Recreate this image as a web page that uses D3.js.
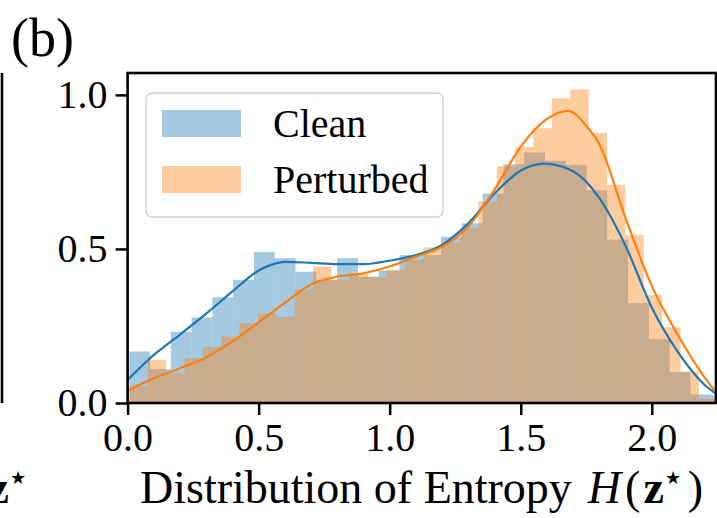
<!DOCTYPE html>
<html>
<head>
<meta charset="utf-8">
<script src="https://cdn.jsdelivr.net/npm/d3@7"></script>
<style>
  body { margin: 0; background: #fff; }
  svg { display: block; font-family: "Liberation Serif", "Times New Roman", serif; }
</style>
</head>
<body>
<div id="chart"></div>
<script>
// ---- data ----
const xTicks = [0, 0.5, 1.0, 1.5, 2.0];
const yTicks = [0, 0.5, 1.0];
const xDomain = [0, 2.245];
const yDomain = [0, 1.071];

const seriesNames = ['Clean', 'Perturbed'];

// histogram bins: first edge, bin width, bar heights (density)
const cleanBinStart = 0.0065;
const cleanBinWidth = 0.0793;
const cleanHeights = [0.167, 0.11, 0.231, 0.278, 0.343, 0.40, 0.49, 0.47, 0.426, 0.40,
  0.47, 0.41, 0.43, 0.48, 0.48, 0.54, 0.583, 0.68, 0.775, 0.813,
  0.786, 0.773, 0.69, 0.53, 0.324, 0.207, 0.10, 0.028, 0.025];

const pertBinStart = 0.0065;
const pertBinWidth = 0.0701;
const pertHeights = [0.055, 0.14, 0.096, 0.145, 0.182, 0.216, 0.259, 0.29, 0.28, 0.369,
  0.443, 0.40, 0.42, 0.408, 0.432, 0.464, 0.505, 0.52, 0.567, 0.654,
  0.768, 0.831, 0.892, 0.989, 1.018, 0.876, 0.708, 0.545, 0.35, 0.246,
  0.102, 0.014];

// KDE curves
const cleanKdeX = [0, 0.1, 0.2, 0.3, 0.4, 0.5, 0.55, 0.6, 0.7, 0.8, 0.9, 1.0, 1.1, 1.2,
  1.3, 1.4, 1.5, 1.59, 1.7, 1.8, 1.9, 2.0, 2.1, 2.2, 2.245];
const cleanKdeY = [0.075, 0.156, 0.222, 0.29, 0.362, 0.43, 0.449, 0.458, 0.455, 0.451,
  0.451, 0.462, 0.48, 0.513, 0.583, 0.68, 0.754, 0.777, 0.752, 0.665, 0.51, 0.31,
  0.165, 0.06, 0.03];

const pertKdeX = [0, 0.1, 0.2, 0.3, 0.4, 0.5, 0.6, 0.7, 0.8, 0.9, 1.0, 1.1, 1.2,
  1.3, 1.4, 1.5, 1.6, 1.68, 1.75, 1.8, 1.9, 2.0, 2.1, 2.2, 2.245];
const pertKdeY = [0.04, 0.08, 0.113, 0.148, 0.2, 0.262, 0.325, 0.385, 0.41, 0.421,
  0.443, 0.475, 0.507, 0.572, 0.692, 0.832, 0.922, 0.948, 0.90, 0.84, 0.60, 0.38,
  0.22, 0.085, 0.035];

// ---- drawing ----
const W = 717, H = 518;
const blue = '#1f77b4', orange = '#ff7f0e';

const svg = d3.select('#chart').append('svg')
  .attr('width', W).attr('height', H);

const x = d3.scaleLinear().domain(xDomain).range([127.6, 716]);
const y = d3.scaleLinear().domain(yDomain).range([403, 73]);

svg.append('clipPath').attr('id', 'plot-clip')
  .append('rect')
  .attr('x', x(xDomain[0])).attr('y', y(yDomain[1]))
  .attr('width', x(xDomain[1]) - x(xDomain[0]))
  .attr('height', y(yDomain[0]) - y(yDomain[1]));

const plot = svg.append('g').attr('clip-path', 'url(#plot-clip)');

function bars(heights, start, width, color) {
  const bins = heights.map((h, i) => ({ x0: start + i * width, x1: start + (i + 1) * width, h }));
  plot.append('g').selectAll('rect')
    .data(bins)
    .join('rect')
    .attr('x', d => x(d.x0))
    .attr('width', d => x(d.x1) - x(d.x0))
    .attr('y', d => y(d.h))
    .attr('height', d => y(0) - y(d.h))
    .attr('fill', color)
    .attr('fill-opacity', 0.4);
}

bars(cleanHeights, cleanBinStart, cleanBinWidth, blue);
bars(pertHeights, pertBinStart, pertBinWidth, orange);

const line = d3.line().x(d => x(d[0])).y(d => y(d[1])).curve(d3.curveMonotoneX);

plot.append('path')
  .datum(d3.zip(cleanKdeX, cleanKdeY))
  .attr('d', line).attr('fill', 'none')
  .attr('stroke', blue).attr('stroke-width', 2.2);
plot.append('path')
  .datum(d3.zip(pertKdeX, pertKdeY))
  .attr('d', line).attr('fill', 'none')
  .attr('stroke', orange).attr('stroke-width', 2.2);

// axes
const fmt = d3.format('.1f');
const xAxis = svg.append('g')
  .attr('transform', `translate(0,${y(0)})`)
  .call(d3.axisBottom(x).tickValues(xTicks).tickFormat(fmt).tickSize(12).tickPadding(8));
const yAxis = svg.append('g')
  .attr('transform', `translate(${x(0)},0)`)
  .call(d3.axisLeft(y).tickValues(yTicks).tickFormat(fmt).tickSize(12).tickPadding(8));

[xAxis, yAxis].forEach(a => {
  a.select('.domain').remove();
  a.attr('font-family', null).attr('font-size', null);
  a.selectAll('line').attr('stroke', '#000').attr('stroke-width', 2.5);
  a.selectAll('text').attr('fill', '#000').style('font-size', '40px');
});

// frame
svg.append('rect')
  .attr('x', x(xDomain[0])).attr('y', y(yDomain[1]))
  .attr('width', x(xDomain[1]) - x(xDomain[0]))
  .attr('height', y(yDomain[0]) - y(yDomain[1]))
  .attr('fill', 'none').attr('stroke', '#000').attr('stroke-width', 2.6);

// legend
const lg = svg.append('g');
lg.append('rect')
  .attr('x', 146).attr('y', 93).attr('width', 297).attr('height', 124).attr('rx', 6)
  .attr('fill', '#fff').attr('fill-opacity', 0.8)
  .attr('stroke', '#d0d0d0').attr('stroke-width', 1.4);
[blue, orange].forEach((c, i) => {
  lg.append('rect')
    .attr('x', 162).attr('y', 110 + i * 56).attr('width', 79).attr('height', 27)
    .attr('fill', c).attr('fill-opacity', 0.4);
  lg.append('text')
    .attr('x', 273).attr('y', 137 + i * 56)
    .style('font-size', '40px').text(seriesNames[i]);
});

// panel tag
svg.append('text').attr('x', 11).attr('y', 56).style('font-size', '54px').text('(b)');

// x label
const xl = svg.append('text').attr('x', 140).attr('y', 503).style('font-size', '46px');
xl.append('tspan').text('Distribution of Entropy');
xl.append('tspan').attr('dx', 16).attr('font-style', 'italic').text('H');
xl.append('tspan').attr('dx', 4).text('(');
xl.append('tspan').attr('dx', 3).attr('font-weight', 'bold').text('z');
xl.append('tspan').attr('dx', 1).attr('dy', -19).style('font-size', '18px').text('★');
xl.append('tspan').attr('dx', 7).attr('dy', 19).text(')');

// pieces of the neighbouring panel on the left
svg.append('line').attr('x1', 2).attr('x2', 2).attr('y1', 73).attr('y2', 403)
  .attr('stroke', '#000').attr('stroke-width', 2.6);
const nl = svg.append('text').attr('x', 26).attr('y', 503).attr('text-anchor', 'end')
  .style('font-size', '46px');
nl.append('tspan').attr('font-weight', 'bold').text('z');
nl.append('tspan').attr('dx', 1).attr('dy', -19).style('font-size', '18px').text('★');
</script>
</body>
</html>
